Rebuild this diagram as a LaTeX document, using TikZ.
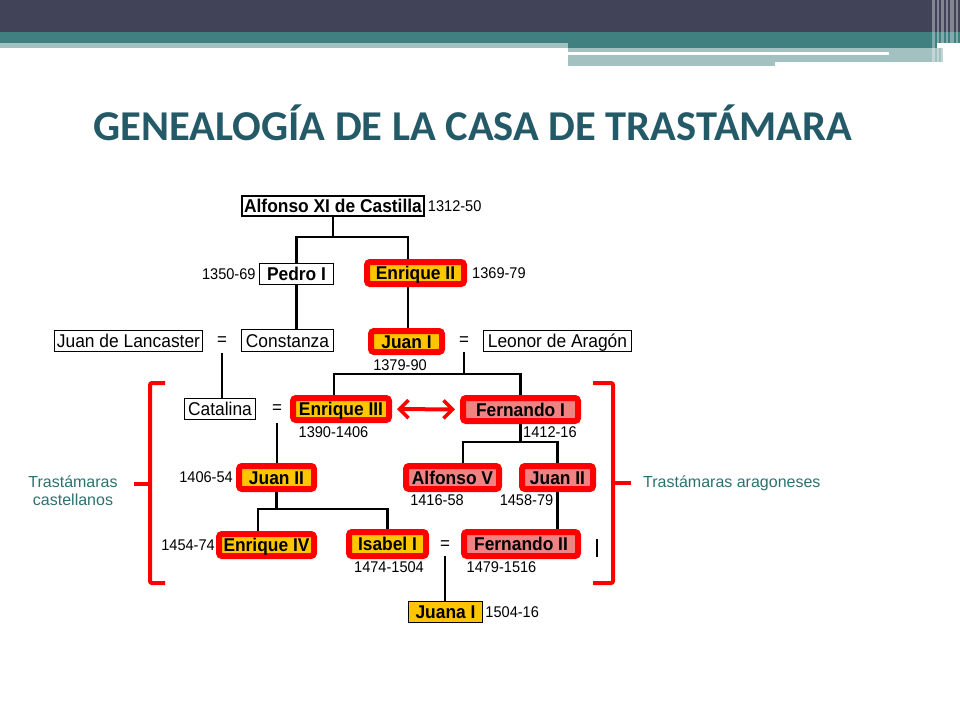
\documentclass[tikz,border=0pt]{standalone}
\usepackage{fontspec}
\setmainfont{Liberation Sans}
\newfontfamily\titlefont{Carlito}
\newfontfamily\treefont[FakeStretch=0.94]{Liberation Sans}
\usetikzlibrary{positioning,backgrounds,arrows.meta}
\definecolor{bandDark}{RGB}{65,68,89}
\definecolor{bandTeal}{RGB}{64,128,128}
\definecolor{bandLight}{RGB}{163,193,193}
\definecolor{titleTeal}{RGB}{36,90,104}
\definecolor{noteTeal}{RGB}{46,112,112}
\definecolor{castGold}{RGB}{255,198,0}
\definecolor{aragPink}{RGB}{240,130,130}
\definecolor{frameRed}{RGB}{255,0,0}

\begin{document}
\begin{tikzpicture}[x=1pt,y=-1pt,
  every node/.style={inner sep=0pt},
  plain/.style={draw=black,line width=1.5pt,fill=white,text height=13.2pt,text depth=0pt,font=\treefont\fontsize{18.5}{20}\selectfont},
  king/.style={plain,font=\treefont\fontsize{18.5}{20}\selectfont\bfseries},
  castilla/.style={draw=frameRed,line width=6pt,rounded corners=3pt,fill=castGold,text height=13.2pt,text depth=0pt,font=\treefont\fontsize{18.5}{20}\selectfont\bfseries},
  aragon/.style={castilla,fill=aragPink},
  eq/.style={font=\treefont\fontsize{18}{20}\selectfont},
  yr/.style={font=\treefont\fontsize{15.5}{17}\selectfont},
  rel/.style={line width=2.6pt,black},
  brace/.style={draw=frameRed,line width=4pt,rounded corners=2pt},
  note/.style={text=noteTeal,font=\fontsize{16}{18}\selectfont,align=center}]
  \useasboundingbox (0,0) rectangle (960,720);

  % header bands
  \fill[bandDark] (0,0) rectangle (960,32);
  \fill[bandTeal] (0,32) rectangle (960,42.7);
  \fill[bandLight] (0,42.7) rectangle (568,47.7);
  \fill[bandTeal] (568,42.7) rectangle (937,47.7);
  \fill[bandLight] (568,47.7) rectangle (943,52.3);
  \fill[bandLight] (889,52.3) rectangle (943,55);
  \fill[bandLight] (568,55) rectangle (775,65.7);
  \fill[bandLight] (775,55) rectangle (943,62.3);
  \foreach \x/\w in {932/3,937/2,941/3,946/2,950/4,956/2}
    \fill[white,opacity=0.35] (\x,0) rectangle ++(\w,66);

  % title
  \node[text=titleTeal,font=\titlefont\bfseries\fontsize{42.5}{50}\selectfont,anchor=base] (title) at (473,140) {GENEALOGÍA DE LA CASA DE TRASTÁMARA};

  % people
  \node[king,minimum width=182pt,minimum height=20pt] (alfonso) at (333,206) {Alfonso XI de Castilla};
  \node[king,minimum width=74pt,minimum height=21pt] (pedro) at (296.5,274) {Pedro I};
  \node[castilla,minimum width=97pt,minimum height=22pt] (enriqueII) at (415.5,273) {Enrique II};
  \node[plain,minimum width=148pt,minimum height=21pt] (lancaster) at (128.5,341) {Juan de Lancaster};
  \node[plain,minimum width=92pt,minimum height=22pt] (constanza) at (287.5,340.5) {Constanza};
  \node[castilla,minimum width=71pt,minimum height=21pt] (juanI) at (406.5,341.5) {Juan I};
  \node[plain,minimum width=148pt,minimum height=21pt] (leonor) at (557.5,341) {Leonor de Aragón};
  \node[plain,minimum width=71pt,minimum height=21pt] (catalina) at (220,409) {Catalina};
  \node[castilla,minimum width=96pt,minimum height=22pt] (enriqueIII) at (341,409) {Enrique III};
  \node[aragon,minimum width=115pt,minimum height=23pt] (fernandoI) at (520.5,409.5) {Fernando I};
  \node[castilla,minimum width=75pt,minimum height=23pt] (juanIIc) at (276.5,477.5) {Juan II};
  \node[aragon,minimum width=93pt,minimum height=23pt] (alfonsoV) at (452.5,477.5) {Alfonso V};
  \node[aragon,minimum width=71pt,minimum height=23pt] (juanIIa) at (557.5,477.5) {Juan II};
  \node[castilla,minimum width=95pt,minimum height=22pt] (enriqueIV) at (266.5,545) {Enrique IV};
  \node[castilla,minimum width=77pt,minimum height=24pt] (isabel) at (387.5,544) {Isabel I};
  \node[aragon,minimum width=114pt,minimum height=24pt] (fernandoII) at (521,544) {Fernando II};
  \node[king,fill=castGold,minimum width=74pt,minimum height=21pt] (juanaI) at (445.5,612) {Juana I};

  % marriages
  \node[eq] (eqLancaster) at (222,341) {=};
  \node[eq] (eqJuanI) at (464,341) {=};
  \node[eq] (eqCatalina) at (277,409) {=};
  \node[eq] (eqIsabel) at (445,545) {=};

  % years
  \node[yr,right=3pt of alfonso] (yAlfonso) {1312-50};
  \node[yr,left=3pt of pedro] (yPedro) {1350-69};
  \node[yr,right=5pt of enriqueII] (yEnriqueII) {1369-79};
  \node[yr] (yJuanI) at (400,365) {1379-90};
  \node[yr] (yEnriqueIII) at (333.5,432) {1390-1406};
  \node[yr,anchor=west] (yFernandoI) at (523,432) {1412-16};
  \node[yr,left=3pt of juanIIc] (yJuanIIc) {1406-54};
  \node[yr] (yAlfonsoV) at (437,500) {1416-58};
  \node[yr] (yJuanIIa) at (526.5,500) {1458-79};
  \node[yr,left=1pt of enriqueIV] (yEnriqueIV) {1454-74};
  \node[yr] (yIsabel) at (389,567) {1474-1504};
  \node[yr] (yFernandoII) at (501.5,567) {1479-1516};
  \node[yr,right=2pt of juanaI] (yJuanaI) {1504-16};

  % descent lines
  \coordinate (eIIhead) at ([xshift=-7.5pt]enriqueII.north);
  \coordinate (eIIfoot) at ([xshift=-7.5pt]enriqueII.south);
  \coordinate (eIIIhead) at ([xshift=-7pt]enriqueIII.north);
  \coordinate (eIVhead) at ([xshift=-8.5pt]enriqueIV.north);
  \coordinate (aVhead) at ([xshift=10.5pt]alfonsoV.north);
  \begin{scope}[on background layer]
    \draw[rel] (alfonso.south) -- (alfonso.south |- 0,237) coordinate (bAlfonso);
    \draw[rel] (pedro.north) |- (bAlfonso) -| (eIIhead);
    \draw[rel] (pedro.south) -- (pedro.south |- constanza.north);
    \draw[rel] (eIIfoot) -- (eIIfoot |- juanI.north);
    \draw[rel] ([yshift=-12pt]eqLancaster.center) -- (eqLancaster |- catalina.north);
    \draw[rel] ([yshift=-11pt]eqJuanI.center) -- (eqJuanI |- 0,374) coordinate (bJuanI);
    \draw[rel] (eIIIhead) |- (bJuanI) -| (fernandoI.north);
    \draw[rel] ([yshift=-14pt]eqCatalina.center) -- (eqCatalina |- juanIIc.north);
    \draw[rel] (fernandoI.south) -- (fernandoI.south |- 0,442) coordinate (bFernandoI);
    \draw[rel] (aVhead) |- (bFernandoI) -| (juanIIa.north);
    \draw[rel] (juanIIc.south) -- (juanIIc.south |- 0,509) coordinate (bJuanIIc);
    \draw[rel] (eIVhead) |- (bJuanIIc) -| (isabel.north);
    \draw[rel] (juanIIa.south) -- (juanIIa.south |- fernandoII.north);
    \draw[rel] ([yshift=-11pt]eqIsabel.center) -- (eqIsabel |- juanaI.north);
  \end{scope}
  \draw[line width=1.5pt] (fernandoII.east) ++(16,-5) -- ++(0,18);

  % cousins
  \draw[frameRed,line width=4pt,{Straight Barb[length=9pt,width=18pt,line width=3.5pt]}-{Straight Barb[length=9pt,width=18pt,line width=3.5pt]},shorten <=5pt,shorten >=5pt] (enriqueIII.east) -- (fernandoI.west);

  % branches
  \draw[brace] (165,383) -- (150,383) -- (150,583) -- (165,583);
  \draw[brace] (150,484) -- (134,484);
  \draw[brace] (593,383) -- (613,383) -- (613,583) -- (593,583);
  \draw[brace] (613,483) -- (631,483);
  \node[note] (castNote) at (73,491) {Trastámaras\\castellanos};
  \node[note,anchor=west] (aragNote) at (643,483) {Trastámaras aragoneses};
\end{tikzpicture}
\end{document}
